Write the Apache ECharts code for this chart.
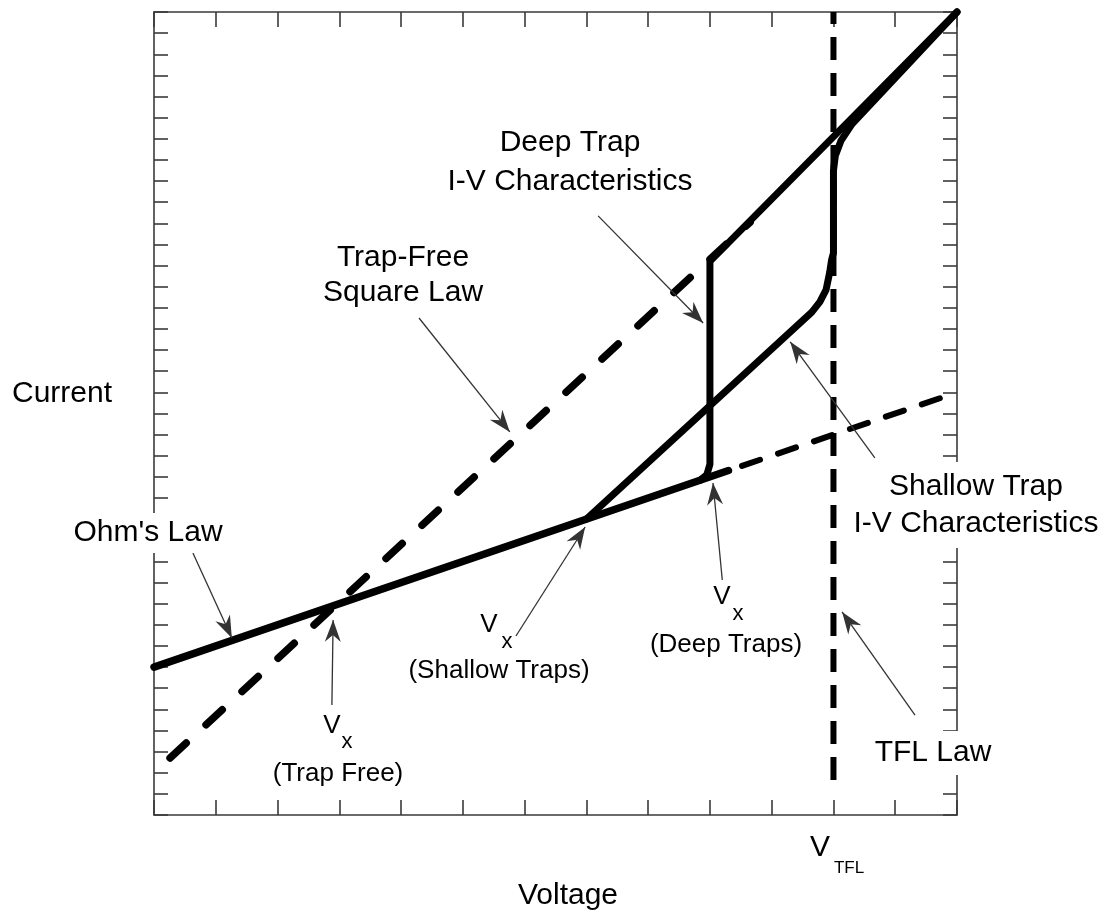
<!DOCTYPE html>
<html>
<head>
<meta charset="utf-8">
<title>I-V Characteristics</title>
<script src="https://cdn.jsdelivr.net/npm/echarts@6/dist/echarts.min.js"></script>
<style>
	html, body { margin: 0; padding: 0; background: #fff; }
	#chart { width: 1109px; height: 915px; }
</style>
</head>
<body>
<div id="chart"></div>
<script>
// 坐标单位：横轴 0-13 格，纵轴 0-38 格（刻度每格一个）
let x_range = [0, 13];
let y_range = [0, 38];

// 各条曲线（电压, 电流）
let ohm_solid = [[0, 7], [9.3, 16.3]];
let ohm_dashed = [[9.52, 16.52], [12.8, 19.8]];
let square_law = [[0.26, 2.7], [9.65, 28.05]];
let deep_trap = [[8.84, 15.84], [8.95, 16.1], [9, 16.6], [9, 26.2], [13, 38]];
let shallow_trap = [[7, 14], [10.65, 23.8], [10.78, 24.28], [10.88, 24.85], [10.94, 25.7], [10.97, 26.27], [11, 26.6], [11, 30.5], [11.03, 31.2], [11.12, 31.9], [11.3, 32.7], [13, 38]];
let tfl_law = [[11, 1.66], [11, 38]];

// 标注箭头 [起点, 箭头尖]
let arrows = [
	[[0.63, 12.4], [1.26, 8.38]], // Ohm's Law
	[[2.88, 5.21], [2.9, 9.23]], // Vx trap free
	[[4.29, 23.52], [5.76, 18.13]], // Trap-Free Square Law
	[[7.19, 28.35], [8.89, 23.28]], // Deep Trap
	[[5.86, 8.47], [6.98, 13.63]], // Vx shallow
	[[9.2, 11.12], [9.05, 15.71]], // Vx deep
	[[11.67, 16.9], [10.3, 22.39]], // Shallow Trap
	[[12.32, 4.73], [11.14, 9.61]], // TFL Law
];

let font = 'Liberation Sans, Arial, sans-serif';
let chart = echarts.init(document.getElementById('chart'));

// 生成坐标轴（四边都有内向刻度，无标签）
function make_axis(position, len) {
	let is_x = position === 'top' || position === 'bottom';
	return {
		type: 'value',
		position: position,
		min: is_x ? x_range[0] : y_range[0],
		max: is_x ? x_range[1] : y_range[1],
		interval: 1,
		axisLine: { show: true, onZero: false, lineStyle: { color: '#3a3a3a', width: 1.6 } },
		axisTick: { show: true, inside: true, length: len, lineStyle: { color: '#3a3a3a', width: 1.6 } },
		axisLabel: { show: false },
		splitLine: { show: false },
	};
}

function line(data, width, type, cap) {
	return {
		type: 'line',
		data: data,
		showSymbol: false,
		symbol: 'none',
		clip: false,
		silent: true,
		animation: false,
		lineStyle: { color: '#000', width: width, type: type, cap: cap || 'round', join: 'round' },
	};
}

function text(str, x, y, size, style) {
	return {
		type: 'text',
		x: x,
		y: y,
		z: 100,
		style: Object.assign({
			text: str,
			fontSize: size,
			fontFamily: font,
			fill: '#000',
			align: 'center',
			verticalAlign: 'middle',
		}, style || {}),
	};
}

let arrow_series = line([], 1, 'solid');
arrow_series.markLine = {
	silent: true,
	animation: false,
	symbol: ['none', 'path://M8,0L16,22L8,15L0,22Z'],
	symbolSize: [16, 22],
	symbolOffset: [0, [0, 11]],
	label: { show: false },
	lineStyle: { color: '#333', width: 1.3, type: 'solid' },
	data: arrows.map((a) => [{ coord: a[0] }, { coord: a[1] }]),
};

let option = {
	backgroundColor: '#fff',
	grid: { left: 154, top: 12, width: 803, height: 803 },
	xAxis: [make_axis('bottom', 15), make_axis('top', 15)],
	yAxis: [make_axis('left', 14), make_axis('right', 14)],
	series: [
		line(ohm_solid, 7.5, 'solid'),
		line(ohm_dashed, 6, [19, 19]),
		line(square_law, 7.5, [22, 27]),
		line(deep_trap, 7, 'solid'),
		line(shallow_trap, 7, 'solid'),
		line(tfl_law, 6, [23, 13], 'butt'),
		arrow_series,
	],
	graphic: [
		text('Current', 12, 394, 30, { align: 'left' }),
		text('Voltage', 568, 896, 30),
		text('V', 820, 848, 30),
		text('TFL', 849, 868, 17),
		text("Ohm's Law", 148, 533, 30, { backgroundColor: '#fff', padding: [5, 4] }),
		text('Deep Trap\nI-V Characteristics', 570, 162, 30, { lineHeight: 39 }),
		text('Trap-Free\nSquare Law', 403, 275, 30, { lineHeight: 35 }),
		text('Shallow Trap\nI-V Characteristics', 976, 505, 30, { lineHeight: 37, backgroundColor: '#fff', padding: [6, 4] }),
		text('TFL Law', 933, 753, 30, { backgroundColor: '#fff', padding: [7, 4] }),
		text('V', 332, 726, 26),
		text('x', 347, 742, 22),
		text('(Trap Free)', 338, 774, 26),
		text('V', 489, 625, 26),
		text('x', 507, 642, 22),
		text('(Shallow Traps)', 499, 671, 26),
		text('V', 722, 597, 26),
		text('x', 738, 614, 22),
		text('(Deep Traps)', 726, 645, 26),
	],
};
chart.setOption(option);
</script>
</body>
</html>
